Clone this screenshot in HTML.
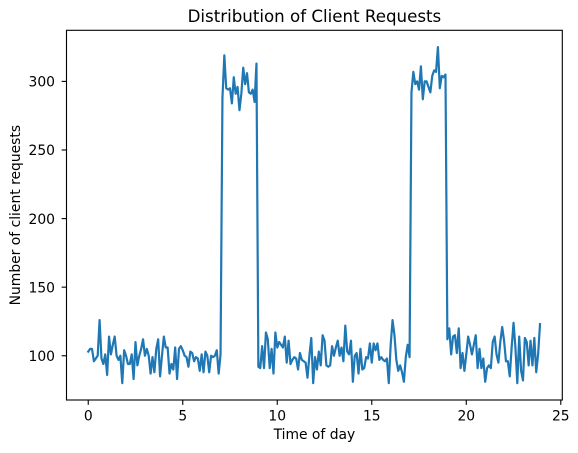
<!DOCTYPE html>
<html>
<head>
<meta charset="utf-8">
<title>Distribution of Client Requests</title>
<style>
html,body{margin:0;padding:0;background:#fff;}
svg{display:block;}
text{font-family:"DejaVu Sans","Liberation Sans",sans-serif;fill:#000;}
</style>
</head>
<body>
<svg id="chart" xmlns="http://www.w3.org/2000/svg" width="578" height="453" viewBox="0 0 578 453"></svg>
<script>
const chartTitle = 'Distribution of Client Requests';
const xAxisLabel = 'Time of day';
const yAxisLabel = 'Number of client requests';
const xTicks = [0, 5, 10, 15, 20, 25];
const yTicks = [100, 150, 200, 250, 300];
const timeStep = 0.1;
const requests = [
103,105,105,96,98,100,126,98,94,101,
86,114,101,108,114,100,97,100,80,104,
100,94,94,101,83,110,93,100,105,112,
100,105,100,87,99,88,105,112,85,100,
114,106,106,87,94,90,106,83,105,107,
104,100,99,92,103,102,96,99,98,89,
101,88,103,100,88,100,99,100,104,87,
101,288,319,295,294,295,284,303,291,296,
279,291,310,298,306,292,291,294,285,313,
92,91,107,91,117,112,91,105,87,117,
106,110,108,106,114,95,111,94,97,99,
98,90,102,97,96,95,84,100,113,80,
99,90,103,93,115,111,93,92,93,107,
100,106,111,100,106,96,122,103,101,111,
81,100,102,87,105,90,91,99,98,109,
95,109,104,109,97,99,97,96,98,80,
108,126,115,97,89,93,88,81,99,108,
99,292,307,298,300,294,311,287,300,300,
296,292,304,308,307,325,295,304,303,305,
112,120,101,114,115,102,120,91,102,89,
101,114,108,101,108,115,91,105,91,98,
81,91,93,91,110,114,101,95,110,121,
111,96,96,85,106,124,106,80,114,89,
82,113,110,93,111,93,113,88,101,123
];

const NS = 'http://www.w3.org/2000/svg';
const svg = document.getElementById('chart');
const plot = { left: 66.5, right: 562.3, top: 30.3, bottom: 400 };
const xDomain = [-1.15, 25.08];
const yDomain = [67.75, 337.25];

function xScale(v) {
  return plot.left + (v - xDomain[0]) / (xDomain[1] - xDomain[0]) * (plot.right - plot.left);
}
function yScale(v) {
  return plot.bottom - (v - yDomain[0]) / (yDomain[1] - yDomain[0]) * (plot.bottom - plot.top);
}
function make(tag, attrs, text) {
  const el = document.createElementNS(NS, tag);
  for (const k in attrs) el.setAttribute(k, attrs[k]);
  if (text !== undefined) el.textContent = text;
  svg.appendChild(el);
  return el;
}

const linePoints = requests.map((v, i) => xScale(i * timeStep).toFixed(2) + ',' + yScale(v).toFixed(2)).join(' ');
const line = make('polyline', { points: linePoints, fill: 'none', stroke: '#1f77b4', 'stroke-width': 2.2, 'stroke-linejoin': 'round', 'stroke-linecap': 'square' });



xTicks.forEach(t => {
  const x = xScale(t);
  const tick = make('line', { x1: x, x2: x, y1: plot.bottom, y2: plot.bottom + 4.86, stroke: '#000', 'stroke-width': 1.11 });
  
  
  const label = make('text', { x: x, y: plot.bottom + 20.3, 'text-anchor': 'middle', 'font-size': 13.89 }, String(t));
  
  
});

yTicks.forEach(t => {
  const y = yScale(t);
  const tick = make('line', { x1: plot.left - 4.86, x2: plot.left, y1: y, y2: y, stroke: '#000', 'stroke-width': 1.11 });
  
  
  const label = make('text', { x: plot.left - 11.5, y: y + 5.2, 'text-anchor': 'end', 'font-size': 13.89 }, String(t));
  
  
});

const frame = make('rect', { x: plot.left, y: plot.top, width: plot.right - plot.left, height: plot.bottom - plot.top, fill: 'none', stroke: '#000', 'stroke-width': 1.11 });



const titleEl = make('text', { x: (plot.left + plot.right) / 2, y: 22, 'text-anchor': 'middle', 'font-size': 16.67 }, chartTitle);



const xTitle = make('text', { x: (plot.left + plot.right) / 2, y: 439, 'text-anchor': 'middle', 'font-size': 13.89 }, xAxisLabel);



const yTitle = make('text', { x: 0, y: 0, 'text-anchor': 'middle', 'font-size': 13.89, transform: 'translate(20,' + ((plot.top + plot.bottom) / 2) + ') rotate(-90)' }, yAxisLabel);


</script>
</body>
</html>
